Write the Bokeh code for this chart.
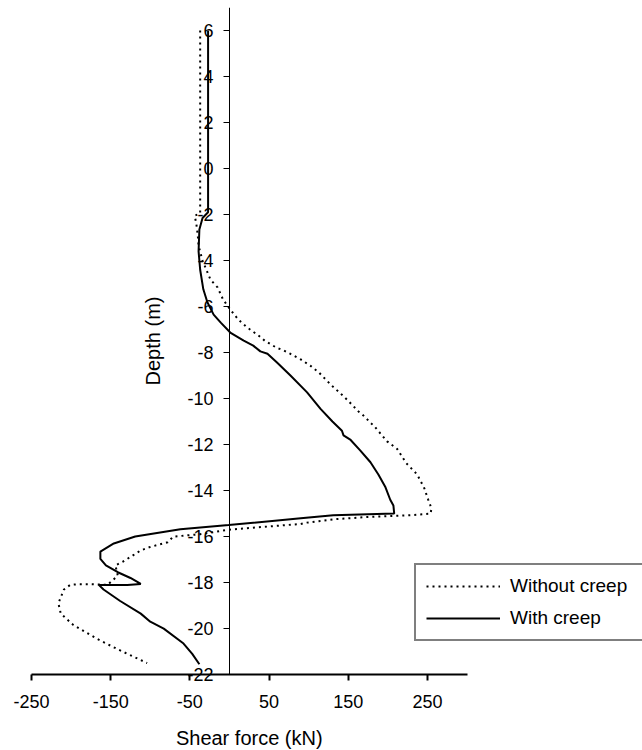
from bokeh.plotting import figure
from bokeh.models import Range1d, FixedTicker, Legend, LegendItem, Label
from bokeh.embed import file_html
from bokeh.resources import INLINE

# Shear force (kN) vs depth (m)
with_creep_x = [-27, -27, -34, -38, -39, -37, -33, -28, -20, -11, 1, 18, 30, 39, 48, 60, 77, 98,
                115, 130, 142, 144, 153, 165, 178, 188, 197, 203, 207, 208, 131, 90, -1, -62,
                -119, -146, -163, -163, -156, -141, -125, -112, -129, -150, -165, -159, -138,
                -112, -100, -83, -58, -47, -38]
with_creep_y = [6, -1.9, -2.15, -2.65, -3.6, -4.4, -5.25, -5.8, -6.35, -6.7, -7.13, -7.48, -7.7,
                -7.95, -8.05, -8.43, -9.0, -9.73, -10.45, -11.0, -11.4, -11.6, -11.8, -12.25,
                -12.77, -13.3, -13.86, -14.4, -14.65, -15.0, -15.07, -15.2, -15.5, -15.68, -16.0,
                -16.3, -16.65, -16.97, -17.25, -17.55, -17.8, -18.06, -18.1, -18.1, -18.1, -18.3,
                -18.8, -19.35, -19.7, -20.0, -20.65, -21.1, -21.55]

without_creep_x = [-37, -37, -44, -42, -40, -39, -34, -24, -15, -8, 1, 11, 22, 37, 45, 60, 68, 76,
                   90, 102, 113, 128, 140, 150, 164, 168, 184, 199, 212, 223, 237, 246, 251, 255,
                   254, 229, 174, 131, 96, 90, -1, -37, -71, -78, -100, -112, -121, -135, -144,
                   -141, -154, -176, -190, -201, -209, -216, -213, -197, -167, -141, -104]
without_creep_y = [6, -1.95, -2.05, -2.36, -2.9, -3.36, -4.0, -4.83, -5.17, -5.7, -6.13, -6.56,
                   -6.9, -7.27, -7.5, -7.8, -7.9, -8.04, -8.3, -8.57, -8.87, -9.4, -9.77, -10.1,
                   -10.6, -10.7, -11.25, -11.86, -12.2, -12.8, -13.3, -13.9, -14.4, -14.77, -15.0,
                   -15.07, -15.15, -15.25, -15.4, -15.45, -15.7, -15.9, -16.0, -16.25, -16.45,
                   -16.6, -16.8, -17.1, -17.25, -17.7, -18.1, -18.07, -18.07, -18.1, -18.3, -18.9,
                   -19.35, -19.85, -20.45, -20.9, -21.5]

x_ticks = [-250, -150, -50, 50, 150, 250]
x_tick_labels = ["-250", "-150", "-50", "50", "150", "250"]
y_ticks = [-22, -20, -18, -16, -14, -12, -10, -8, -6, -4, -2, 0, 2, 4, 6]
y_tick_labels = ["-22", "-20", "-18", "-16", "-14", "-12", "-10", "-8", "-6", "-4", "-2",
                 "0", "2", "4", "6"]
x_title = "Shear force (kN)"
y_title = "Depth (m)"

FONT = "Liberation Sans"

p = figure(width=642, height=750, output_backend="svg", toolbar_location=None,
           x_range=Range1d(-289.1, 521.5), y_range=Range1d(-25.3, 7),
           min_border_left=0, min_border_right=0, min_border_top=7, min_border_bottom=0)
p.outline_line_color = None
p.grid.visible = False
p.background_fill_color = "white"
p.border_fill_color = "white"

r_wo = p.line(without_creep_x, without_creep_y, line_color="black", line_width=2,
              line_dash="2 4")
r_w = p.line(with_creep_x, with_creep_y, line_color="black", line_width=2)

xa = p.xaxis[0]
xa.fixed_location = -22
xa.bounds = (-250, 300)
xa.ticker = FixedTicker(ticks=x_ticks)
xa.major_label_overrides = dict(zip(x_ticks, x_tick_labels))
xa.minor_tick_line_color = None
xa.major_tick_in = 0
xa.major_tick_out = 6
xa.axis_line_width = 2
xa.major_tick_line_width = 2
xa.axis_line_color = "black"
xa.major_tick_line_color = "black"
xa.major_label_text_font = FONT
xa.major_label_text_font_size = "18px"
xa.major_label_text_color = "black"
xa.major_label_standoff = 14

ya = p.yaxis[0]
ya.fixed_location = 0
ya.level = "underlay"
ya.bounds = (-22, 7)
ya.ticker = FixedTicker(ticks=y_ticks)
ya.major_label_overrides = dict(zip(y_ticks, y_tick_labels))
ya.minor_tick_line_color = None
ya.major_tick_in = 0
ya.major_tick_out = 6
ya.axis_line_color = "black"
ya.major_tick_line_color = "black"
ya.major_label_text_font = FONT
ya.major_label_text_font_size = "18px"
ya.major_label_text_color = "black"
ya.major_label_standoff = 10
ya.axis_label = y_title
ya.axis_label_text_font = FONT
ya.axis_label_text_font_size = "20px"
ya.axis_label_text_font_style = "normal"
ya.axis_label_text_color = "black"
ya.axis_label_standoff = 20

p.add_layout(Label(x=25, y=13, x_units="data", y_units="screen", text=x_title,
                   text_font=FONT, text_font_size="20px", text_color="black",
                   text_align="center", text_baseline="middle"))

legend = Legend(items=[LegendItem(label="Without creep", renderers=[r_wo]),
                       LegendItem(label="With creep", renderers=[r_w])],
                location=(414, 109), margin=0, padding=10, spacing=10,
                glyph_width=74, glyph_height=20, label_standoff=10, label_width=190,
                label_text_font=FONT, label_text_font_size="19px", label_text_color="black",
                border_line_color="black", border_line_width=2,
                background_fill_color="white", background_fill_alpha=1.0)
p.add_layout(legend)

open("out.html", "w").write(file_html(p, INLINE))
